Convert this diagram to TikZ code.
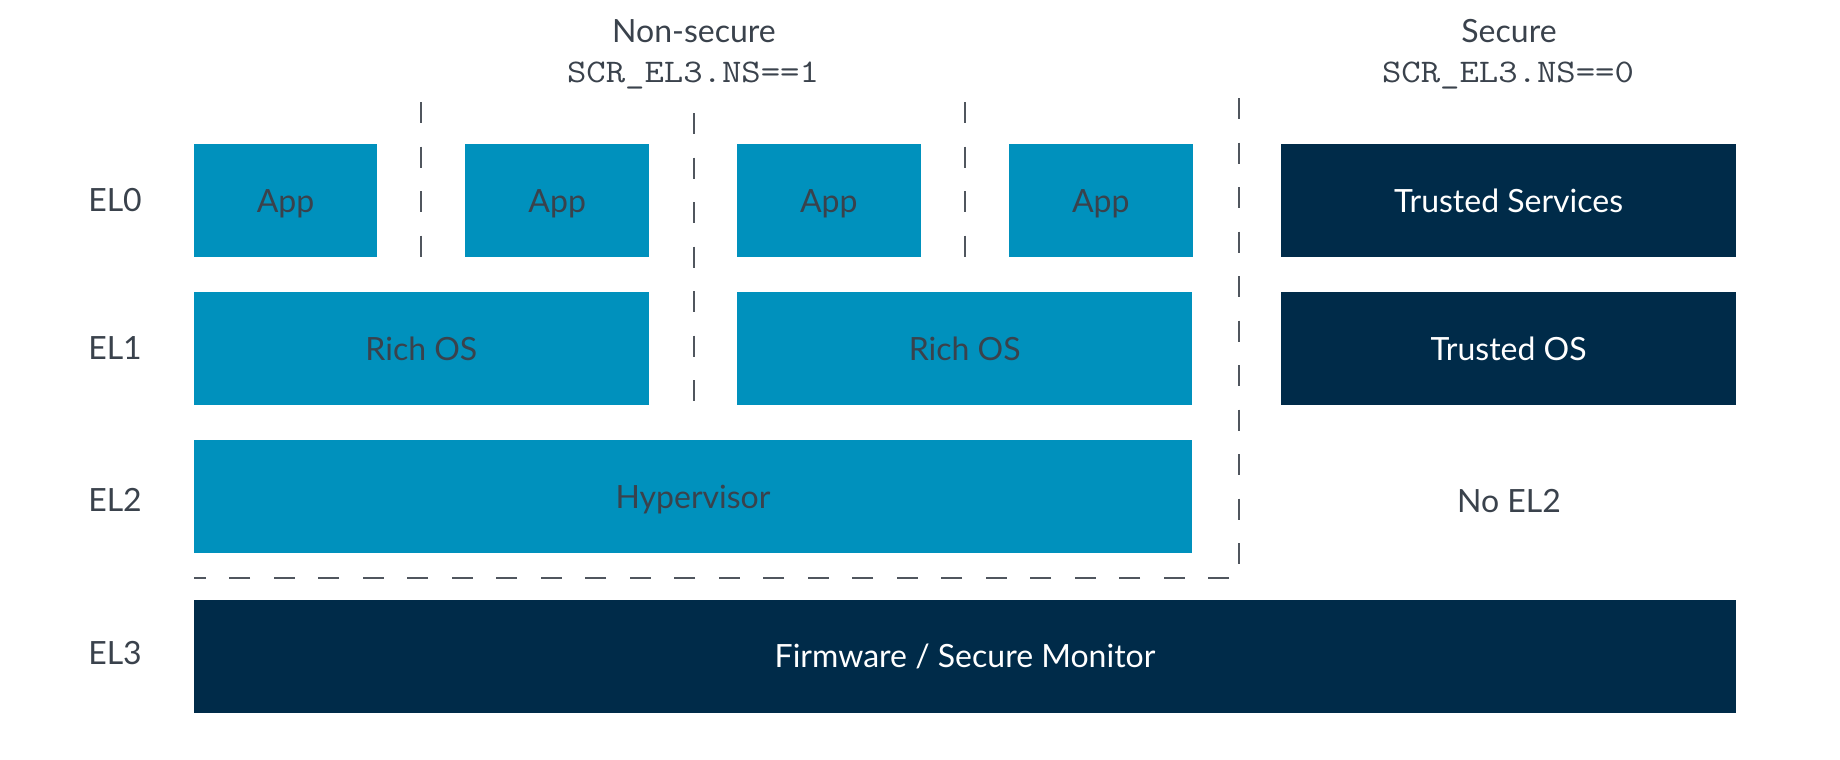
\documentclass[tikz,border=0pt]{standalone}
\usepackage{fontspec}
\setmainfont{Lato}
\definecolor{nsblue}{HTML}{0091BD}
\definecolor{snavy}{HTML}{002B49}
\definecolor{inkgray}{HTML}{3A424C}
\definecolor{rulegray}{HTML}{50565E}
\begin{document}
\begin{tikzpicture}[x=1pt,y=-1pt,
  txt/.style={font=\fontsize{32}{38}\selectfont, text height=23pt, text depth=0pt},
  nsbox/.style={txt, fill=nsblue, text=inkgray, inner sep=0pt, minimum height=113pt},
  sbox/.style={txt, fill=snavy, text=white, inner sep=0pt, minimum height=113pt},
  lbl/.style={txt, text=inkgray, inner sep=0pt},
  code/.style={font=\ttfamily\fontsize{33}{38}\selectfont, text=inkgray, inner sep=0pt, xscale=1.14, transform shape},
  wall/.style={draw=rulegray, line width=2pt, dash pattern=on 21pt off 23.5pt}]
\useasboundingbox (0,0) rectangle (1840,760);

% world headings
\node[lbl] (nshead) at (694,31) {Non-secure};
\node[code] (nscode) at (693,75.5) {SCR\_EL3.NS==1};
\node[lbl] (shead) at (1509,31) {Secure};
\node[code] (scode) at (1508,75.5) {SCR\_EL3.NS==0};

% exception level labels
\node[lbl] (el0) at (115,200) {EL0};
\node[lbl] (el1) at (115,348) {EL1};
\node[lbl] (el2) at (115,500) {EL2};
\node[lbl] (el3) at (115,653) {EL3};

% EL0
\node[nsbox, minimum width=183.6pt] (app1) at (285.5,200.5) {App};
\node[nsbox, minimum width=183.6pt] (app2) at (557.2,200.5) {App};
\node[nsbox, minimum width=183.6pt] (app3) at (828.8,200.5) {App};
\node[nsbox, minimum width=183.6pt] (app4) at (1100.8,200.5) {App};
\node[sbox, minimum width=455.3pt] (tsvc) at (1508.6,200.5) {Trusted Services};

% EL1
\node[nsbox, minimum width=455.3pt] (os1) at (421.4,348.5) {Rich OS};
\node[nsbox, minimum width=455.3pt] (os2) at (964.7,348.5) {Rich OS};
\node[sbox, minimum width=455.3pt] (tos) at (1508.6,348.5) {Trusted OS};

% EL2
\node[nsbox, minimum width=998.6pt] (hyp) at (693,496.5) {Hypervisor};
\node[lbl] (noel2) at (1509,501) {No EL2};

% EL3
\node[sbox, minimum width=1542.6pt] (fw) at (965,656) {Firmware / Secure Monitor};

% partitions between VMs and apps
\coordinate (w1t) at (421,102);
\coordinate (w2t) at (693.5,113);
\coordinate (w3t) at (965,102);
\coordinate (nst) at (1238.5,98);
\coordinate (nsc) at (1238.5,578);
\coordinate (nsl) at (193.7,578);
\draw[wall] (w1t) -- (w1t |- app1.south);
\draw[wall] (w2t) -- (w2t |- os1.south);
\draw[wall] (w3t) -- (w3t |- app3.south);
\draw[wall] (nst) -- (nsc) -- (nsl);
\end{tikzpicture}
\end{document}
